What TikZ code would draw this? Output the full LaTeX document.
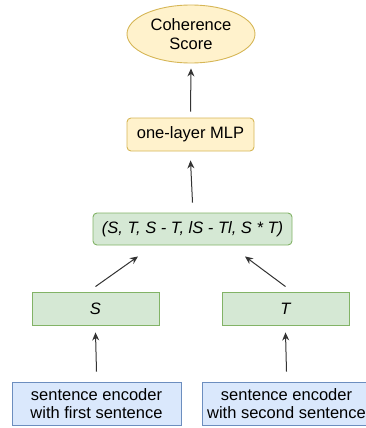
\documentclass[tikz,border=0pt]{standalone}
\usepackage{fontspec}
\setmainfont{Liberation Sans}
\usetikzlibrary{arrows.meta,shapes.geometric}
\definecolor{yfill}{HTML}{FFF2CC}
\definecolor{ydraw}{HTML}{D6B656}
\definecolor{gfill}{HTML}{D5E8D4}
\definecolor{gdraw}{HTML}{82B366}
\definecolor{bfill}{HTML}{DAE8FC}
\definecolor{bdraw}{HTML}{6C8EBF}
\definecolor{arr}{HTML}{333333}
\begin{document}
\begin{tikzpicture}[x=1pt,y=1pt,
  every node/.style={font=\fontsize{16.5}{18.5}\selectfont, align=center, inner sep=0pt, line width=0.9pt},
  ybox/.style={draw=ydraw, fill=yfill, rounded corners=4pt},
  gbox/.style={draw=gdraw, fill=gfill},
  bbox/.style={draw=bdraw, fill=bfill},
  conn/.style={draw=arr, line width=1pt, -{Stealth[length=8pt,width=7pt]}}
]
\clip (0,0) rectangle (366,-428);
\useasboundingbox (0,0) rectangle (366,-428);
\node[ellipse, ybox, minimum width=128, minimum height=58] (score) at (191,-34) {Coherence\\Score};
\node[ybox, minimum width=127, minimum height=33] (mlp) at (190.5,-134.5) {one-layer MLP};
\node[gbox, rounded corners=4pt, minimum width=199, minimum height=32] (comb) at (192.5,-229) {\itshape (S, T, S - T, lS - Tl, S * T)};
\node[gbox, minimum width=127, minimum height=33] (s) at (95.5,-308.5) {\itshape S};
\node[gbox, minimum width=127, minimum height=33] (t) at (285.5,-308.5) {\itshape T};
\node[bbox, minimum width=169, minimum height=43] (enc1) at (96.5,-403.5) {sentence encoder\\with first sentence};
\node[bbox, minimum width=169, minimum height=43] (enc2) at (286.5,-403.5) {sentence encoder\\with second sentence};
\draw[conn] ([yshift=6]mlp.north) -- ([yshift=-5]score.south);
\draw[conn] ([yshift=10]comb.north) -- ([yshift=-9]mlp.south);
\draw[conn] ([yshift=5]s.north) -- ([xshift=-54.5,yshift=-11]comb.south);
\draw[conn] ([yshift=5]t.north) -- ([xshift=52.5,yshift=-11]comb.south);
\draw[conn] ([yshift=10]enc1.north) -- ([yshift=-7]s.south);
\draw[conn] ([yshift=10]enc2.north) -- ([yshift=-7]t.south);
\end{tikzpicture}
\end{document}
